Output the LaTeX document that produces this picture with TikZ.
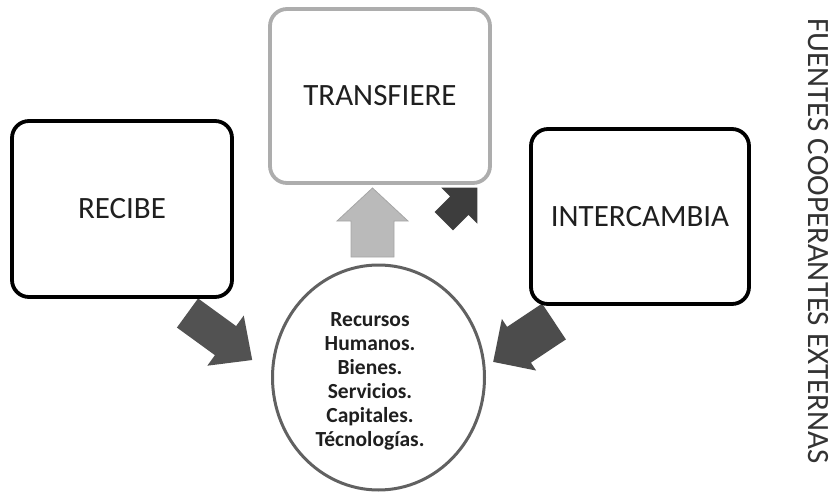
\documentclass[tikz,border=0pt]{standalone}
\usepackage{fontspec}
\setmainfont{Carlito}
\usetikzlibrary{shapes.geometric}
\newcommand\blockarr[7]{%
  \fill[#1, shift={#2}, rotate=#3] (0,-#5) -- (#4,-#5) -- (#4,-#6) -- ({#4+#7},0) -- (#4,#6) -- (#4,#5) -- (0,#5) -- cycle;}
\begin{document}
\begin{tikzpicture}[x=1pt,y=1pt]
\useasboundingbox (0,0) rectangle (833,-495);
\tikzset{
  box/.style={draw=black, line width=3.8pt, rounded corners=17pt, fill=white, inner sep=0pt},
  lightbox/.style={box, draw=black!32},
  lbl/.style={font=\fontsize{31}{37}\selectfont, text=black!88},
  larr/.style={fill=black!68},
  rarr/.style={fill=black!70},
  darr/.style={fill=black!76},
  garr/.style={fill=black!27, draw=black!35, line width=0.8pt}
}
% block arrows
\blockarr{larr}{(187.5,-313)}{-36}{47}{18}{31}{33}
\blockarr{rarr}{(554,-321.5)}{213.6}{42}{21.5}{31}{31}
\blockarr{garr}{(372.5,-257)}{90}{36}{21.5}{35.5}{33}
\blockarr{darr}{(443.8,-221.2)}{45}{22}{13}{25.5}{25.5}
% boxes
\node[box, lbl, minimum width=220pt, minimum height=176pt] (recibe) at (122,-209) {RECIBE};
\node[lightbox, lbl, minimum width=220pt, minimum height=174pt] (transfiere) at (380,-96) {TRANSFIERE};
\node[box, lbl, minimum width=218pt, minimum height=175pt] (intercambia) at (640,-216.5) {INTERCAMBIA};
% circle
\node[ellipse, draw=black!62, line width=3pt, minimum width=212pt, minimum height=225pt, inner sep=0pt] (centro) at (378.5,-377.5) {};
\node[font=\bfseries\fontsize{21.5}{24}\selectfont, align=center, text=black!88] (items) at (370,-381)
  {Recursos\\Humanos.\\Bienes.\\Servicios.\\Capitales.\\Técnologías.};
% vertical label
\node[rotate=-90, font=\fontsize{31}{36}\selectfont, text=black!80, inner sep=0pt] (fuentes) at (818.5,-241) {FUENTES COOPERANTES EXTERNAS};
\end{tikzpicture}
\end{document}
